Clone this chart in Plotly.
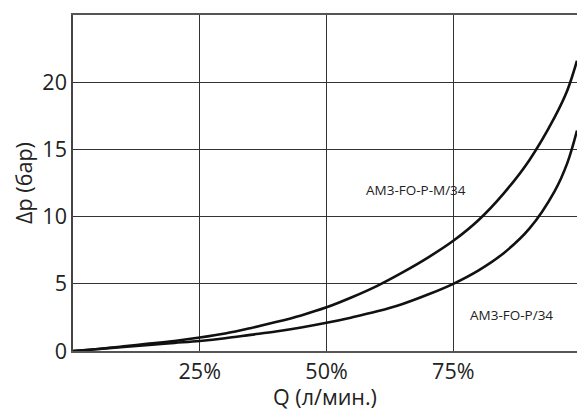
import plotly.graph_objects as go

# Flow (% of nominal) and pressure drop (bar)
q_m = [0, 5, 10, 15, 20, 25, 30, 35, 40, 45, 50, 55, 60, 65, 70, 75, 80, 85, 90, 95, 97.5, 99.4]
dp_m = [0, 0.15, 0.35, 0.55, 0.75, 1.0, 1.3, 1.7, 2.15, 2.65, 3.25, 4.0, 4.85, 5.85, 6.95, 8.2, 9.75,
        11.75, 14.2, 17.4, 19.4, 21.6]

q_p = [0, 5, 10, 15, 20, 25, 30, 35, 40, 45, 50, 55, 60, 65, 70, 75, 80, 85, 90, 95, 97.5, 99.4]
dp_p = [0, 0.15, 0.3, 0.45, 0.6, 0.75, 0.95, 1.2, 1.45, 1.75, 2.1, 2.5, 2.95, 3.5, 4.2, 5.0, 6.0,
        7.3, 9.1, 11.9, 14.0, 16.4]

x_ticks = [25, 50, 75]
x_labels = ["25%", "50%", "75%"]
y_ticks = [0, 5, 10, 15, 20]

label_m = "AM3-FO-P-M/34"
label_p = "AM3-FO-P/34"
label_m_pos = (67.7, 12.0)
label_p_pos = (86.5, 2.7)

fig = go.Figure()
for q, dp, name in [(q_m, dp_m, label_m), (q_p, dp_p, label_p)]:
    fig.add_trace(go.Scatter(x=q, y=dp, mode="lines", name=name,
                             line=dict(color="#111111", width=2.6, shape="spline", smoothing=1.0),
                             showlegend=False, hoverinfo="skip", cliponaxis=True))

font_main = dict(family="Open Sans, Noto Sans, sans-serif", size=21.5, color="#222222")
font_lbl = dict(family="Open Sans, sans-serif", size=13.5, color="#222222")

fig.add_annotation(x=label_m_pos[0], y=label_m_pos[1], text=label_m, showarrow=False, font=font_lbl)
fig.add_annotation(x=label_p_pos[0], y=label_p_pos[1], text=label_p, showarrow=False, font=font_lbl)

fig.update_layout(
    width=577, height=411,
    margin=dict(l=73, r=0, t=15, b=60, autoexpand=False),
    paper_bgcolor="white", plot_bgcolor="white",
    font=font_main,
)
fig.update_xaxes(range=[0, 99.4], tickvals=x_ticks, ticktext=x_labels, automargin=False,
                 showgrid=True, gridcolor="#333333", gridwidth=1,
                 showline=True, linecolor="#555555", linewidth=1.5, mirror=True,
                 zeroline=False, ticks="", ticklen=0,
                 title=dict(text="Q (л/мин.)", standoff=2, font=font_main),
                 tickfont=font_main)
fig.update_yaxes(range=[0, 25], tickvals=y_ticks, automargin=False,
                 showgrid=True, gridcolor="#333333", gridwidth=1,
                 showline=True, linecolor="#444444", linewidth=1.5,
                 zeroline=False, ticks="", ticklen=0,
                 title=dict(text="Δp (бар)", standoff=4, font=font_main),
                 tickfont=font_main)

fig.write_html("out.html", config={"displayModeBar": False},
               post_script="document.body.style.margin='0';document.body.style.overflow='hidden';")
